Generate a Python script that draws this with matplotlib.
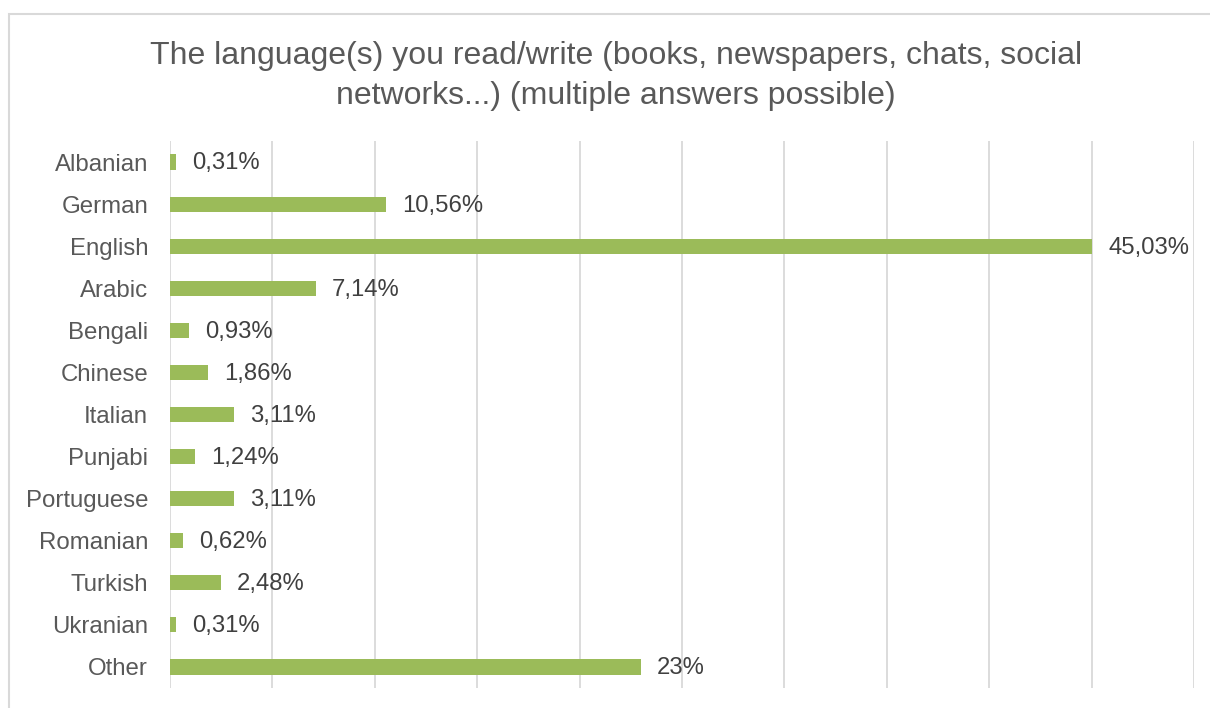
import matplotlib
matplotlib.use("Agg")
import matplotlib.pyplot as plt
from matplotlib.patches import Rectangle

languages = ["Albanian", "German", "English", "Arabic", "Bengali", "Chinese",
             "Italian", "Punjabi", "Portuguese", "Romanian", "Turkish",
             "Ukranian", "Other"]
shares = [0.31, 10.56, 45.03, 7.14, 0.93, 1.86, 3.11, 1.24, 3.11, 0.62,
          2.48, 0.31, 23]
value_labels = ["0,31%", "10,56%", "45,03%", "7,14%", "0,93%", "1,86%",
                "3,11%", "1,24%", "3,11%", "0,62%", "2,48%", "0,31%", "23%"]
title = ("The language(s) you read/write (books, newspapers, chats, social\n"
         "networks...) (multiple answers possible)")

plt.rcParams["font.family"] = ["Liberation Sans", "DejaVu Sans"]

fig = plt.figure(figsize=(12.10, 7.08), dpi=100)
fig.patch.set_facecolor("white")

# outer chart frame
fig.add_artist(Rectangle((9 / 1210, -0.05), 1.2, (708 - 14) / 708 + 0.05,
                         transform=fig.transFigure, fill=False,
                         edgecolor="#D9D9D9", linewidth=1.5))

ax = fig.add_axes([170 / 1210, 20 / 708, 1024 / 1210, 547 / 708])
y = list(range(len(languages)))
ax.barh(y, shares, height=0.36, color="#9BBB59", zorder=3)

for yi, v, lab in zip(y, shares, value_labels):
    ax.annotate(lab, (v, yi), xytext=(11.5, -1), textcoords="offset points",
                va="center", ha="left", fontsize=17.2, color="#404040")

ax.set_xlim(0, 50)
ax.set_ylim(len(languages) - 0.5, -0.5)
ax.set_xticks(range(0, 51, 5))
ax.set_xticklabels([])
ax.set_yticks(y)
ax.set_yticklabels(languages, fontsize=17.3, color="#595959")
ax.tick_params(axis="both", length=0)
ax.tick_params(axis="y", pad=15.8)
ax.grid(axis="x", color="#D9D9D9", linewidth=1.3, zorder=0)
for s in ax.spines.values():
    s.set_visible(False)

fig.text(616 / 1210, 1 - 76 / 708, title, ha="center", va="center",
         fontsize=23, color="#595959", linespacing=1.4)

fig.savefig("out.png", dpi=100)
